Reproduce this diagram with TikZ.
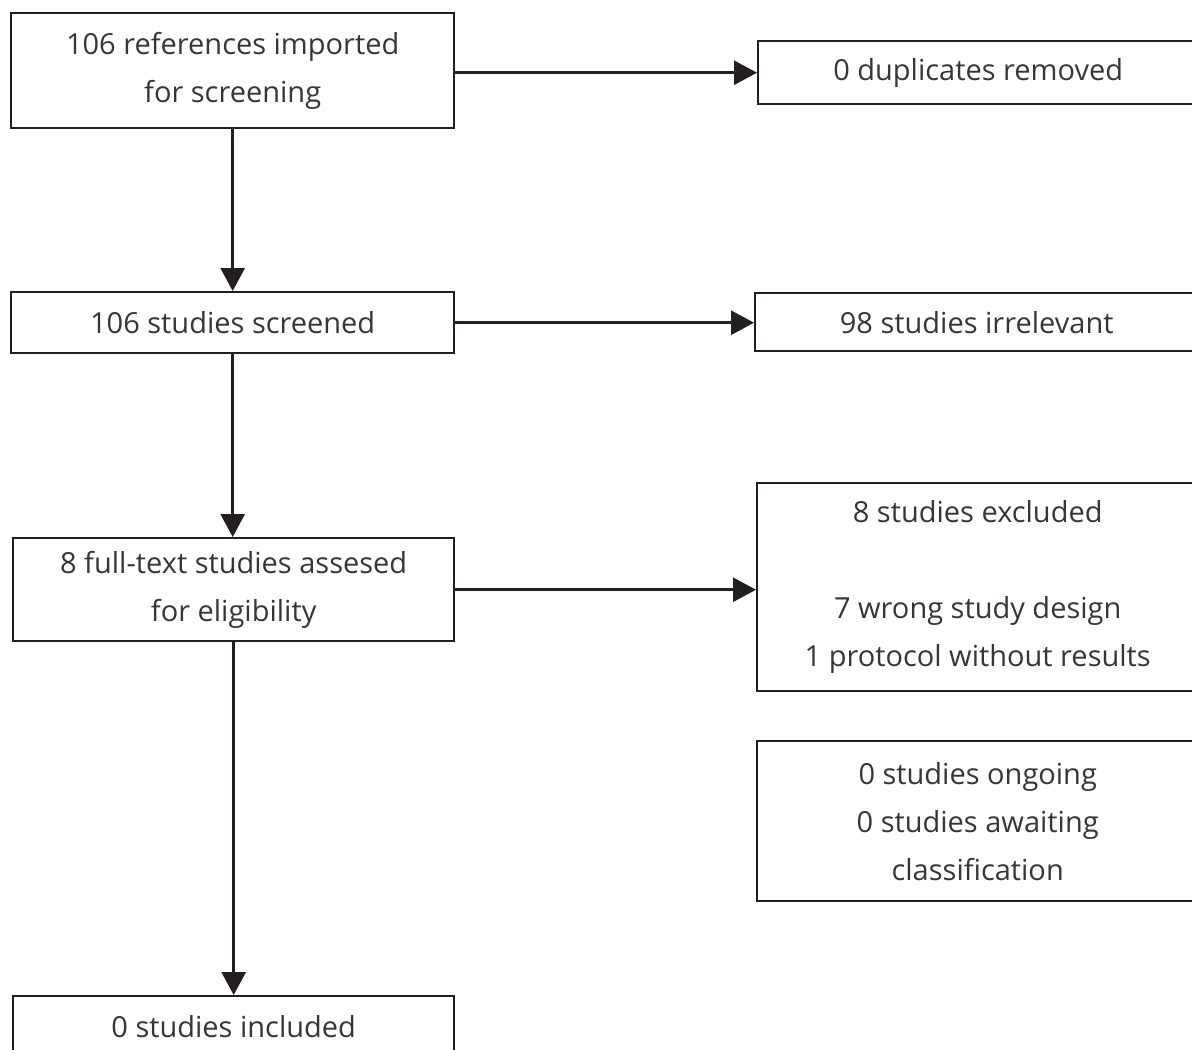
\documentclass[tikz,border=0pt]{standalone}
\usepackage{fontspec}
\setmainfont{Open Sans}
\usetikzlibrary{positioning, arrows.meta}
\definecolor{ink}{HTML}{231F20}

\begin{document}
\begin{tikzpicture}[x=0.02cm,y=-0.02cm,
  font=\fontsize{16.5}{27.3}\selectfont,
  box/.style={draw=ink,line width=1.4pt,anchor=north west,align=center,inner sep=0pt,text=ink!90},
  flow/.style={draw=ink,line width=1.6pt,-{Triangle[length=0.46cm,width=0.48cm]}}]
\path[use as bounding box,clip] (0,0) rectangle (1192,1050);
% left column
\node at(10,12)[box,minimum width=8.86cm,minimum height=2.3cm](refs){106 references imported\\for screening};
\node at(10,291)[box,minimum width=8.86cm,minimum height=1.22cm](screened){106 studies screened};
\node at(12,537)[box,minimum width=8.82cm,minimum height=2.06cm](fulltext){8 full-text studies assesed\\for eligibility};
\node at(12,995)[box,minimum width=8.82cm,minimum height=1.22cm](included){0 studies included};
% right column
\node at(757,40)[box,minimum width=8.8cm,minimum height=1.26cm](dupl){0 duplicates removed};
\node at(754,292)[box,minimum width=8.86cm,minimum height=1.16cm](irrel){98 studies irrelevant};
\node at(756,482)[box,minimum width=8.82cm,minimum height=4.16cm](excl){8 studies excluded\\[27.3pt]7 wrong study design\\1 protocol without results};
\node at(756,740)[box,minimum width=8.82cm,minimum height=3.2cm](ongoing){0 studies ongoing\\0 studies awaiting\\classification};
% connectors
\draw[flow] (refs.south) -- (screened.north);
\draw[flow] (screened.south) -- (fulltext.north -| screened.south);
\draw[flow] (fulltext.south) -- (included.north);
\draw[flow] (refs.east |- dupl.west) -- (dupl.west);
\draw[flow] (screened.east) -- (screened.east -| irrel.west);
\draw[flow] (fulltext.east) -- (fulltext.east -| excl.west);
\end{tikzpicture}
\end{document}
